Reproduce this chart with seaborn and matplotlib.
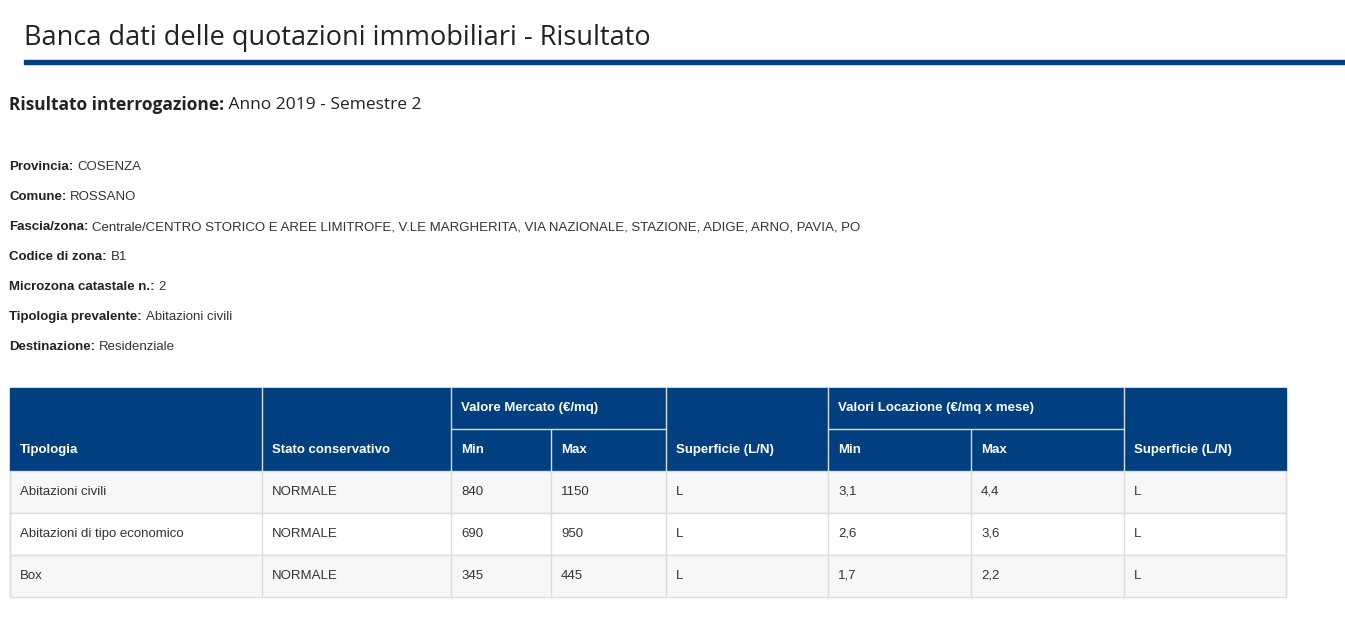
import matplotlib
matplotlib.use("Agg")
import matplotlib.pyplot as plt
import seaborn as sns
from matplotlib.patches import Rectangle

sns.set_theme(style="white")
plt.rcParams['font.family'] = ['Liberation Sans', 'DejaVu Sans']

title = "Banca dati delle quotazioni immobiliari - Risultato"
query_label = "Risultato interrogazione:"
query_value = " Anno 2019 - Semestre 2"
info_labels = ["Provincia:", "Comune:", "Fascia/zona:", "Codice di zona:",
               "Microzona catastale n.:", "Tipologia prevalente:", "Destinazione:"]
info_values = ["COSENZA", "ROSSANO",
               "Centrale/CENTRO STORICO E AREE LIMITROFE, V.LE MARGHERITA, VIA NAZIONALE, STAZIONE, ADIGE, ARNO, PAVIA, PO",
               "B1", "2", "Abitazioni civili", "Residenziale"]
tipologia = ["Abitazioni civili", "Abitazioni di tipo economico", "Box"]
stato = ["NORMALE", "NORMALE", "NORMALE"]
mercato_min = ["840", "690", "345"]
mercato_max = ["1150", "950", "445"]
superficie_m = ["L", "L", "L"]
locazione_min = ["3,1", "2,6", "1,7"]
locazione_max = ["4,4", "3,6", "2,2"]
superficie_l = ["L", "L", "L"]

W, H = 1345, 639
fig = plt.figure(figsize=(W/100, H/100), dpi=100)
ax = fig.add_axes([0, 0, 1, 1])
ax.set_xlim(0, W); ax.set_ylim(H, 0); ax.axis('off')

blue = "#003F80"
ax.text(24, 38, title, fontsize=19.5, family=['Open Sans', 'DejaVu Sans'], color="#222", va='center')
ax.add_patch(Rectangle((24, 60), W-24, 4, color=blue))

t = ax.text(9, 105, query_label, fontsize=12.5, fontweight='bold', family=['Open Sans', 'DejaVu Sans'], color="#222", va='center')
fig.canvas.draw()
bb = t.get_window_extent()
ax.text(9 + bb.width, 105, query_value, fontsize=12.5, family=['Open Sans', 'DejaVu Sans'], color="#222", va='center')

r = fig.canvas.get_renderer()
for i, (lab, val) in enumerate(zip(info_labels, info_values)):
    y = 167 + 30*i
    tl = ax.text(9, y, lab, fontsize=9.5, fontweight='bold', color="#222", va='center')
    w = tl.get_window_extent(renderer=r).width
    ax.text(9 + w + 4, y, val, fontsize=9.5, color="#333", va='center')

xs = [10, 262, 451, 551, 666, 828, 971, 1124, 1286]
ytop, ymid, yh = 388, 429, 471
rowh = 42
ax.add_patch(Rectangle((xs[0], ytop), xs[-1]-xs[0], yh-ytop, color=blue))
lc = "#dddddd"
for x in xs[1:-1]:
    if x in (551, 971):
        ax.plot([x, x], [ymid, yh], color=lc, lw=1)
    else:
        ax.plot([x, x], [ytop, yh], color=lc, lw=1)
ax.plot([451, 666], [ymid, ymid], color=lc, lw=1)
ax.plot([828, 1124], [ymid, ymid], color=lc, lw=1)
hk = dict(fontsize=9.5, fontweight='bold', color='white', va='center')
ax.text(20, 450, "Tipologia", **hk)
ax.text(272, 450, "Stato conservativo", **hk)
ax.text(461, 408, "Valore Mercato (€/mq)", **hk)
ax.text(461, 450, "Min", **hk); ax.text(561, 450, "Max", **hk)
ax.text(676, 450, "Superficie (L/N)", **hk)
ax.text(838, 408, "Valori Locazione (€/mq x mese)", **hk)
ax.text(838, 450, "Min", **hk); ax.text(981, 450, "Max", **hk)
ax.text(1134, 450, "Superficie (L/N)", **hk)

cols = [tipologia, stato, mercato_min, mercato_max, superficie_m, locazione_min, locazione_max, superficie_l]
n = len(tipologia)
for i in range(n):
    y0 = yh + rowh*i
    ax.add_patch(Rectangle((xs[0], y0), xs[-1]-xs[0], rowh,
                           facecolor="#f7f7f7" if i % 2 == 0 else "white", edgecolor=lc, lw=1))
    for j, c in enumerate(cols):
        ax.text(xs[j]+10, y0+rowh/2, c[i], fontsize=9.5, color="#333", va='center')
for x in xs:
    ax.plot([x, x], [yh, yh+rowh*n], color=lc, lw=1)

fig.savefig("out.png", dpi=100, facecolor='white')
